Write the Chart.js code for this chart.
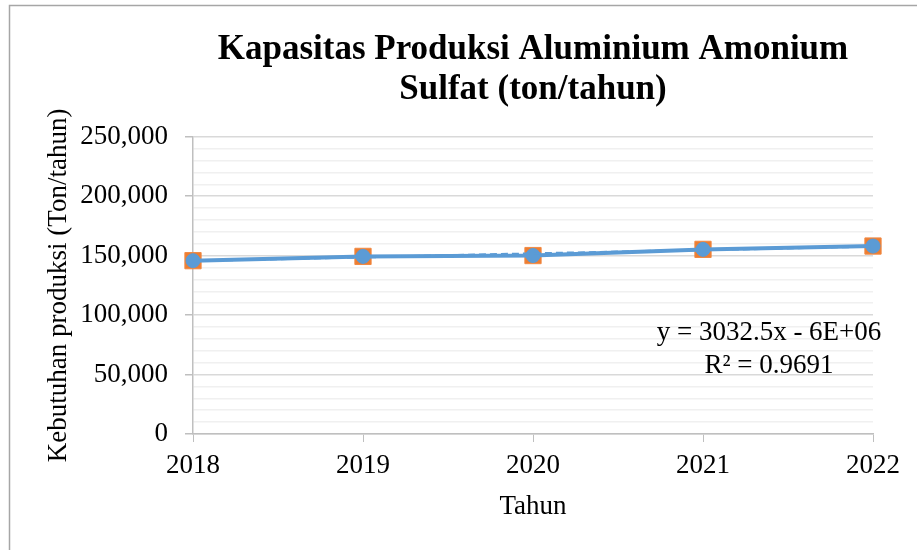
<!DOCTYPE html>
<html>
<head>
<meta charset="utf-8">
<script src="https://cdn.jsdelivr.net/npm/chart.js@4/dist/chart.umd.min.js"></script>
<style>
html,body{margin:0;padding:0;background:#fff;}
#c{display:block;}
</style>
</head>
<body>
<canvas id="c" width="917" height="550"></canvas>
<script>
const years = [2018, 2019, 2020, 2021, 2022];
const produksi = [145800, 149400, 150100, 155300, 158100];
const trendYears = [2018, 2022];
const trendValues = [145700, 157830];
const yTickMajor = 50000;
const yTickMinor = 10000;
const titleLines = ['Kapasitas Produksi Aluminium Amonium', 'Sulfat (ton/tahun)'];
const equationLines = ['y = 3032.5x - 6E+06', 'R\u00B2 = 0.9691'];
const xTitle = 'Tahun';
const yTitle = 'Kebutuhan produksi (Ton/tahun)';

const FONT = "'Liberation Serif', 'Times New Roman', serif";
const pts = years.map((y, i) => ({x: y, y: produksi[i]}));
const trendPts = trendYears.map((y, i) => ({x: y, y: trendValues[i]}));

const frame = {
  id: 'frame',
  beforeDraw(chart) {
    const ctx = chart.ctx;
    ctx.save();
    ctx.fillStyle = '#fff';
    ctx.fillRect(0, 0, chart.width, chart.height);
    ctx.strokeStyle = '#a6a6a6';
    ctx.lineWidth = 1.5;
    ctx.strokeRect(9.5, 5.5, chart.width + 20, chart.height + 20);
    ctx.restore();
  },
  afterDraw(chart) {
    const ctx = chart.ctx, a = chart.chartArea;
    ctx.save();
    ctx.font = '27px ' + FONT;
    ctx.fillStyle = '#000';
    ctx.textAlign = 'center';
    ctx.textBaseline = 'middle';
    const cx = a.right - 104;
    ctx.fillText(equationLines[0], cx, a.top + 196);
    ctx.fillText(equationLines[1], cx, a.top + 229);
    ctx.restore();
  }
};

new Chart(document.getElementById('c'), {
  type: 'scatter',
  data: {
    datasets: [
      {
        data: pts,
        showLine: true,
        borderColor: '#5b9bd5',
        borderWidth: 4,
        pointRadius: 7,
        pointBackgroundColor: '#5b9bd5',
        pointBorderColor: '#5b9bd5',
        pointBorderWidth: 1,
        order: 1,
        clip: false
      },
      {
        data: trendPts,
        showLine: true,
        borderColor: '#5b9bd5',
        borderWidth: 2.5,
        borderDash: [7, 4],
        pointRadius: 0,
        order: 0,
        clip: false
      },
      {
        data: pts,
        showLine: false,
        pointStyle: 'rect',
        pointRadius: 11.5,
        pointBackgroundColor: '#ed7d31',
        pointBorderColor: '#f08a45',
        pointBorderWidth: 1,
        order: 2,
        clip: false
      }
    ]
  },
  options: {
    responsive: false,
    animation: false,
    devicePixelRatio: 1,
    layout: {padding: {left: 0, right: 44, top: 0, bottom: 0}},
    plugins: {
      legend: {display: false},
      tooltip: {enabled: false},
      title: {
        display: true,
        fullSize: false,
        text: titleLines,
        color: '#000',
        font: {family: FONT, size: 35, weight: 'bold', lineHeight: 1.14},
        padding: {top: 30, bottom: 27}
      }
    },
    scales: {
      x: {
        type: 'linear',
        min: 2018,
        max: 2022,
        afterFit(s) { s.height = 116; },
        ticks: {
          stepSize: 1,
          color: '#000',
          font: {family: FONT, size: 27},
          padding: 8,
          callback: v => String(v)
        },
        grid: {
          drawOnChartArea: false,
          drawTicks: true,
          tickLength: 8,
          color: '#bfbfbf',
          tickColor: '#bfbfbf'
        },
        border: {color: '#bfbfbf', width: 1.5},
        title: {
          display: true,
          text: xTitle,
          color: '#000',
          font: {family: FONT, size: 27, lineHeight: 1.2},
          padding: {top: 0, bottom: 27}
        }
      },
      y: {
        min: 0,
        max: 250000,
        afterFit(s) { s.width = 193; },
        ticks: {
          stepSize: yTickMinor,
          autoSkip: false,
          color: '#000',
          font: {family: FONT, size: 27},
          padding: 17,
          callback: v => (v % yTickMajor === 0 ? v.toLocaleString('en-US') : '')
        },
        grid: {
          drawTicks: true,
          tickLength: 8,
          color: c => (c.tick && c.tick.value % yTickMajor === 0 ? '#d9d9d9' : '#f0f0f0'),
          lineWidth: 1.5,
          tickColor: c => (c.tick && c.tick.value % yTickMajor === 0 ? '#bfbfbf' : 'rgba(0,0,0,0)')
        },
        border: {color: '#bfbfbf', width: 1.5},
        title: {
          display: true,
          text: yTitle,
          color: '#000',
          font: {family: FONT, size: 27, lineHeight: 1.2},
          padding: {top: 43, bottom: 0}
        }
      }
    }
  },
  plugins: [frame]
});
</script>
</body>
</html>
